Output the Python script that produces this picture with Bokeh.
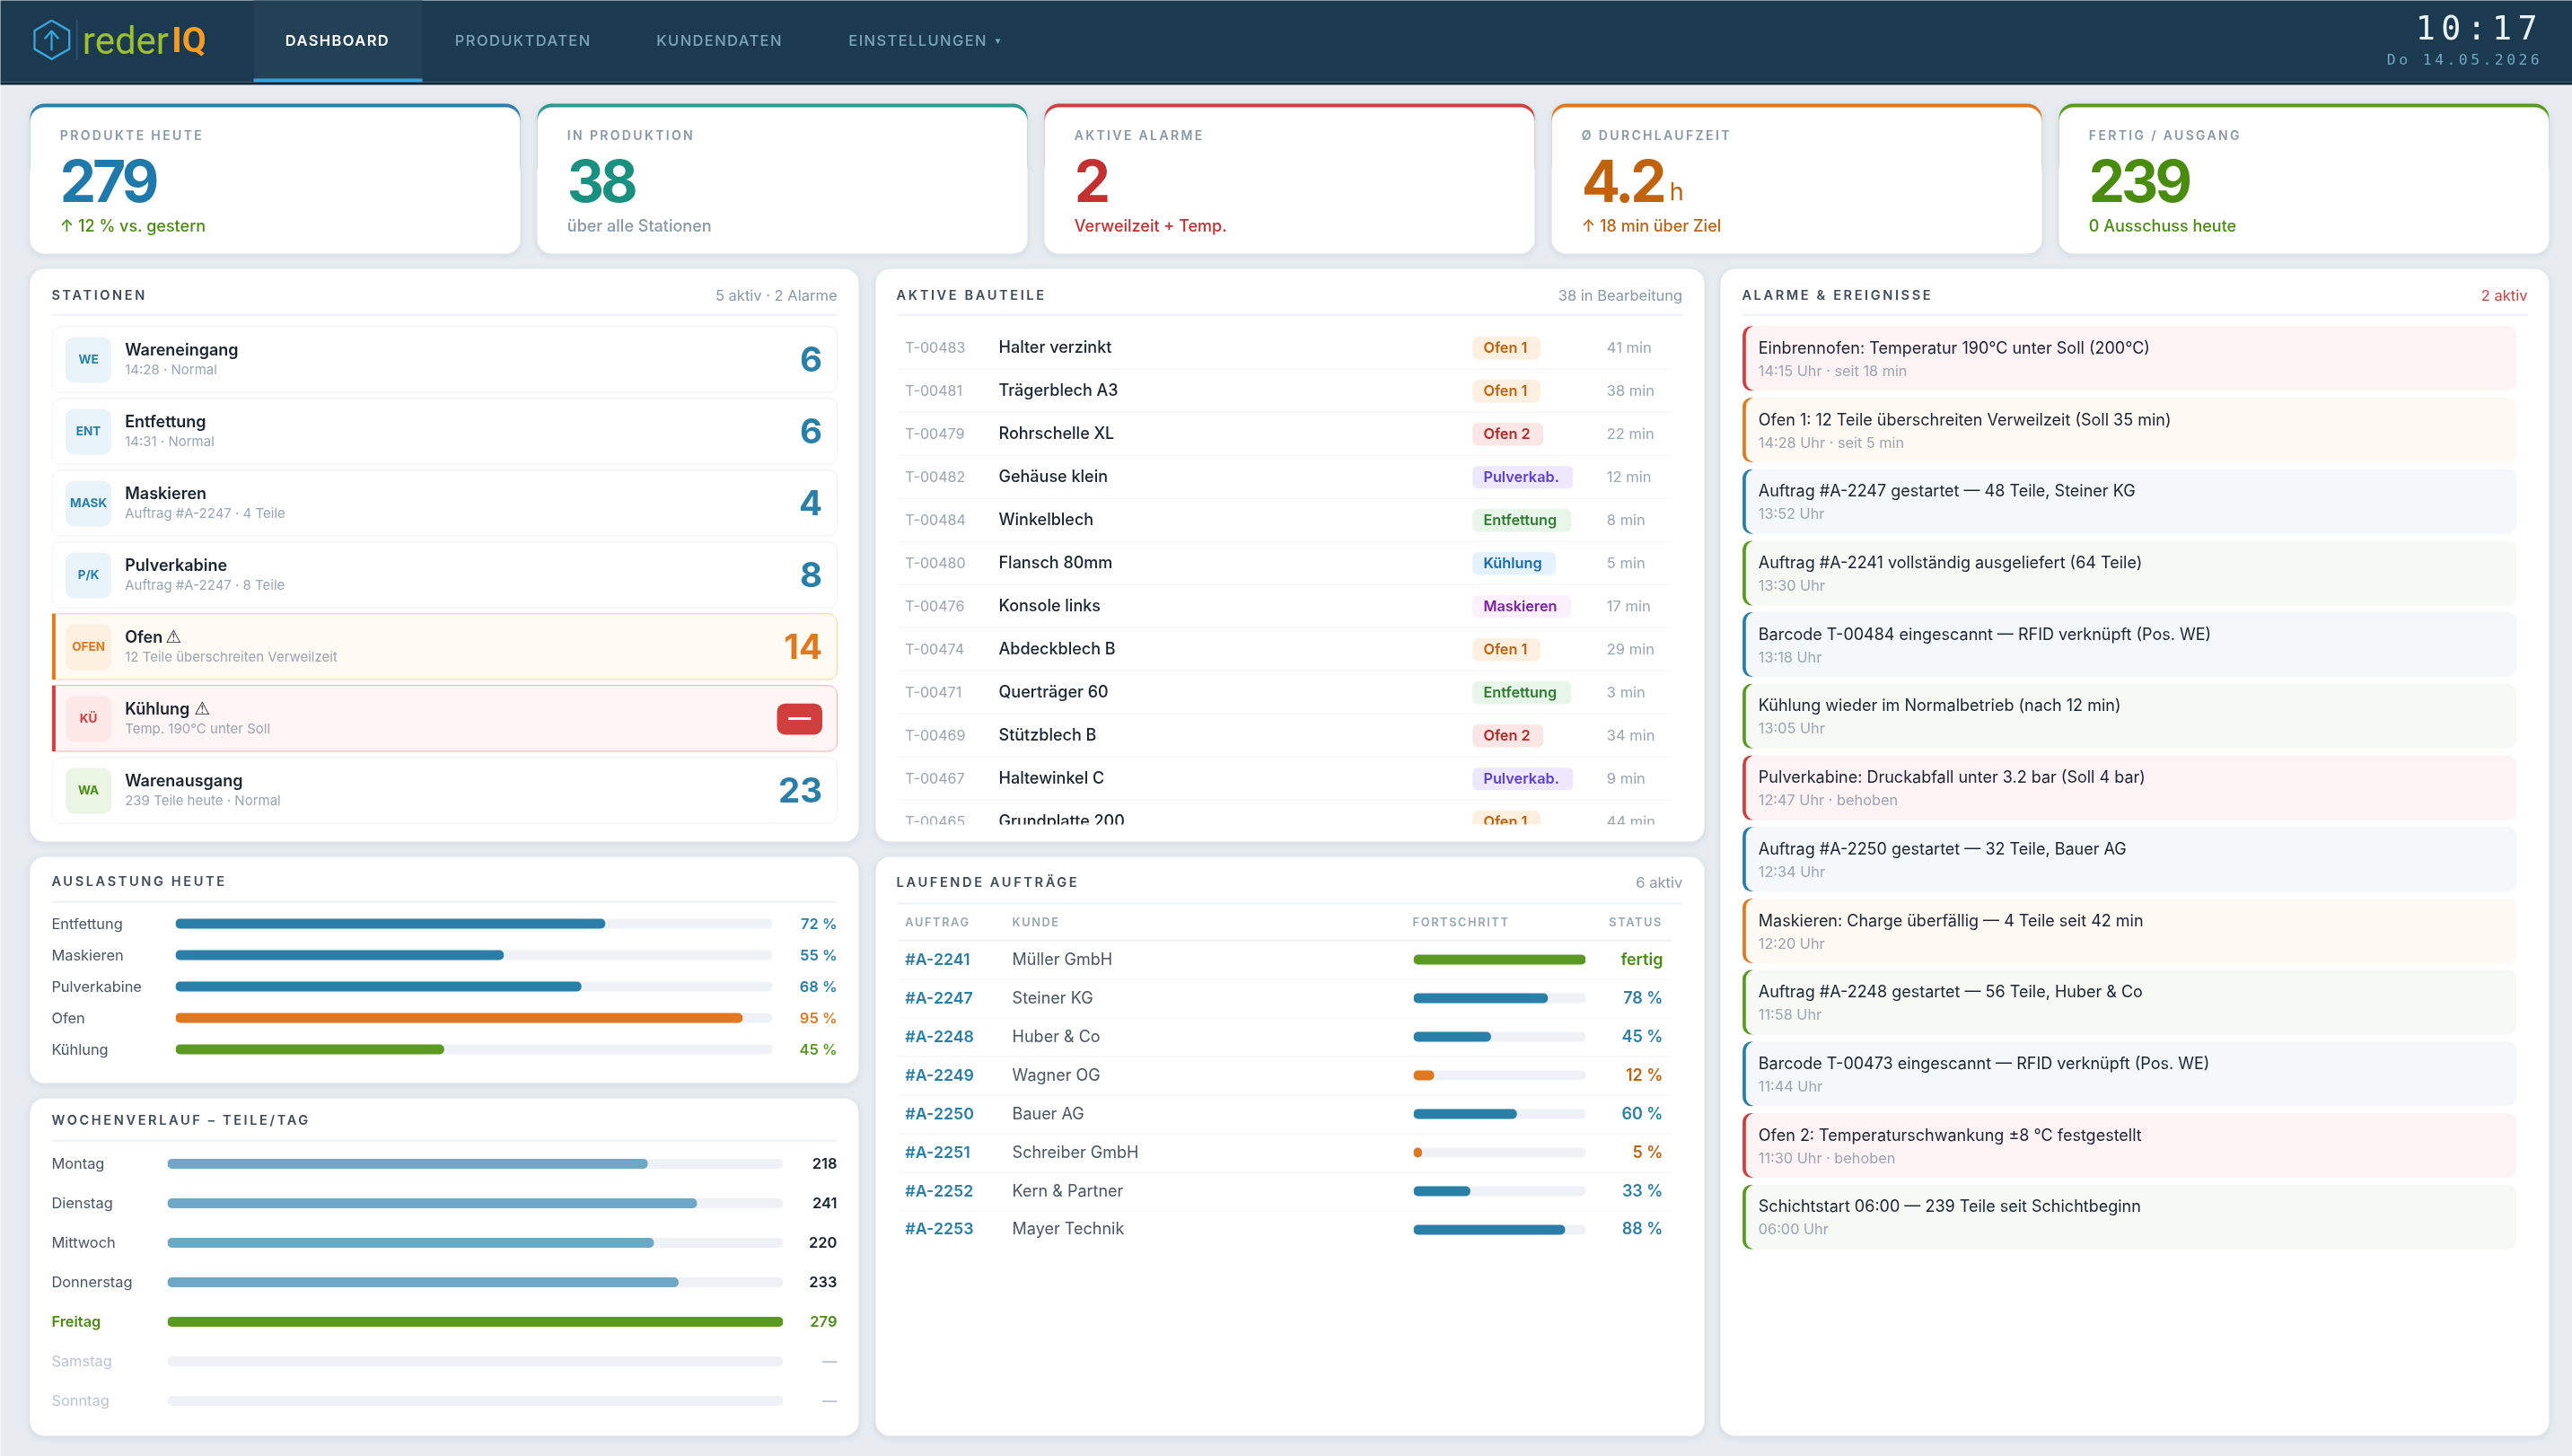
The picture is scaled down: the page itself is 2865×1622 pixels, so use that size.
from collections import OrderedDict
from bokeh.core.properties import value
from bokeh.embed import file_html
from bokeh.resources import INLINE
from bokeh.layouts import column
from bokeh.models import Range1d, FactorRange
from bokeh.plotting import figure

# ---------- data ----------
nav_items = ["DASHBOARD", "PRODUKTDATEN", "KUNDENDATEN", "EINSTELLUNGEN"]
clock_time = "10:17"
clock_date = "Do 14.05.2026"

kpi_labels = ["PRODUKTE HEUTE", "IN PRODUKTION", "AKTIVE ALARME", "Ø DURCHLAUFZEIT", "FERTIG / AUSGANG"]
kpi_values = ["279", "38", "2", "4.2", "239"]
kpi_units = ["", "", "", "h", ""]
kpi_notes = ["↑ 12 % vs. gestern", "über alle Stationen", "Verweilzeit + Temp.", "↑ 18 min über Ziel", "0 Ausschuss heute"]

station_codes = ["WE", "ENT", "MASK", "P/K", "OFEN", "KÜ", "WA"]
station_names = ["Wareneingang", "Entfettung", "Maskieren", "Pulverkabine", "Ofen", "Kühlung", "Warenausgang"]
station_details = ["14:28 · Normal", "14:31 · Normal", "Auftrag #A-2247 · 4 Teile", "Auftrag #A-2247 · 8 Teile",
                   "12 Teile überschreiten Verweilzeit", "Temp. 190°C unter Soll", "239 Teile heute · Normal"]
station_counts = ["6", "6", "4", "8", "14", "—", "23"]
station_state = ["ok", "ok", "ok", "ok", "warn", "alarm", "done"]

part_ids = ["T-00483", "T-00481", "T-00479", "T-00482", "T-00484", "T-00480", "T-00476", "T-00474", "T-00471", "T-00469", "T-00467", "T-00465"]
part_names = ["Halter verzinkt", "Trägerblech A3", "Rohrschelle XL", "Gehäuse klein", "Winkelblech", "Flansch 80mm",
              "Konsole links", "Abdeckblech B", "Querträger 60", "Stützblech B", "Haltewinkel C", "Grundplatte 200"]
part_stations = ["Ofen 1", "Ofen 1", "Ofen 2", "Pulverkab.", "Entfettung", "Kühlung", "Maskieren", "Ofen 1", "Entfettung", "Ofen 2", "Pulverkab.", "Ofen 1"]
part_minutes = ["41 min", "38 min", "22 min", "12 min", "8 min", "5 min", "17 min", "29 min", "3 min", "34 min", "9 min", "44 min"]

event_texts = ["Einbrennofen: Temperatur 190°C unter Soll (200°C)", "Ofen 1: 12 Teile überschreiten Verweilzeit (Soll 35 min)",
               "Auftrag #A-2247 gestartet — 48 Teile, Steiner KG", "Auftrag #A-2241 vollständig ausgeliefert (64 Teile)",
               "Barcode T-00484 eingescannt — RFID verknüpft (Pos. WE)", "Kühlung wieder im Normalbetrieb (nach 12 min)",
               "Pulverkabine: Druckabfall unter 3.2 bar (Soll 4 bar)", "Auftrag #A-2250 gestartet — 32 Teile, Bauer AG",
               "Maskieren: Charge überfällig — 4 Teile seit 42 min", "Auftrag #A-2248 gestartet — 56 Teile, Huber & Co",
               "Barcode T-00473 eingescannt — RFID verknüpft (Pos. WE)", "Ofen 2: Temperaturschwankung ±8 °C festgestellt",
               "Schichtstart 06:00 — 239 Teile seit Schichtbeginn"]
event_times = ["14:15 Uhr · seit 18 min", "14:28 Uhr · seit 5 min", "13:52 Uhr", "13:30 Uhr", "13:18 Uhr", "13:05 Uhr",
               "12:47 Uhr · behoben", "12:34 Uhr", "12:20 Uhr", "11:58 Uhr", "11:44 Uhr", "11:30 Uhr · behoben", "06:00 Uhr"]
event_kinds = ["red", "orange", "blue", "green", "blue", "green", "red", "blue", "orange", "green", "blue", "red", "green"]

util_names = ["Entfettung", "Maskieren", "Pulverkabine", "Ofen", "Kühlung"]
util_values = [72, 55, 68, 95, 45]
util_kinds = ["blue", "blue", "blue", "orange", "green"]

week_days = ["Montag", "Dienstag", "Mittwoch", "Donnerstag", "Freitag", "Samstag", "Sonntag"]
week_bar_pct = [78, 86, 79, 83, 100, 0, 0]
week_labels = ["218", "241", "220", "233", "279", "—", "—"]

order_ids = ["#A-2241", "#A-2247", "#A-2248", "#A-2249", "#A-2250", "#A-2251", "#A-2252", "#A-2253"]
order_customers = ["Müller GmbH", "Steiner KG", "Huber & Co", "Wagner OG", "Bauer AG", "Schreiber GmbH", "Kern & Partner", "Mayer Technik"]
order_progress = [100, 78, 45, 12, 60, 5, 33, 88]
order_status = ["fertig", "78 %", "45 %", "12 %", "60 %", "5 %", "33 %", "88 %"]
order_kinds = ["green", "blue", "blue", "orange", "blue", "orange", "blue", "blue"]
order_headers = ["AUFTRAG", "KUNDE", "FORTSCHRITT", "STATUS"]

# ---------- style ----------
W, H = 2865, 1622
PAGE = "#e8ecf1"; NAVY = "#1c3a4f"; INK = "#1a2330"; MUTED = "#9aa5b1"; TRACK = "#eef1f5"; LINE = "#eef1f5"
FILL = {"blue": "#2a7fa9", "orange": "#e07820", "green": "#5a9a20", "red": "#d03e3e"}
TXT = {"blue": "#2a7fa9", "orange": "#c0620e", "green": "#4a8c10", "red": "#c43030"}
SEMI = "Inter SemiBold"; MED = "Inter Medium"


def sheet(**kw):
    f = figure(output_backend="svg", toolbar_location=None, x_axis_type=None, y_axis_type=None,
               min_border=0, outline_line_color=None, **kw)
    f.grid.visible = False
    return f


p = sheet(width=W, height=H, x_range=Range1d(0, W), y_range=Range1d(H, 0), background_fill_color=PAGE, border_fill_color=PAGE)
p.styles = {"position": "fixed", "left": "0px", "top": "0px"}

layers = OrderedDict()
pending = OrderedDict()


def layer(ls):
    if ls == 0:
        return p
    if ls not in layers:
        f = sheet(width=W, height=H, x_range=Range1d(0, W), y_range=Range1d(H, 0), background_fill_color=None, border_fill_color=None)
        f.styles = {"position": "fixed", "left": "0px", "top": "0px", "letter-spacing": f"{ls}px"}
        layers[ls] = f
    return layers[ls]


def Q(x0, y0, x1, y1, fill, line=None, r=0, alpha=1.0, lw=1.0):
    p.quad(left=[x0], right=[x1], top=[y0], bottom=[y1], fill_color=fill, fill_alpha=alpha,
           line_color=line, line_width=lw, border_radius=r)


def T(x, y, s, size, color, font="Inter", style="normal", align="left", ls=0):
    g = pending.setdefault((ls, font, style, align), dict(x=[], y=[], text=[], size=[], color=[]))
    g["x"].append(x - 0.7 if align == "left" else x); g["y"].append(y - 0.9); g["text"].append(s)
    g["size"].append(f"{size}px"); g["color"].append(color)


def flush():
    for (ls, font, style, align), g in pending.items():
        layer(ls).text(x="x", y="y", text="text", source=g, text_font=value(font), text_font_style=style, text_align=align,
                       text_baseline="middle", text_font_size="size", text_color="color")
    pending.clear()


def card(x0, y0, x1, y1, r=16):
    for d, a in ((7, .010), (4, .014), (2, .020)):
        Q(x0 - d, y0 - d + 2, x1 + d, y1 + d + 2, "#1c3a4f", r=r + d, alpha=a)
    Q(x0, y0, x1, y1, "#ffffff", r=r)


def panel_head(x0, x1, ty, div, title, note=None, note_color="#8a97a6"):
    T(x0, ty, title, 14.6, "#3f4b59", font=SEMI, ls=2.6)
    if note:
        T(x1, ty, note, 16.5, note_color, align="right")
    Q(x0, div - 1, x1, div + 1, LINE)


# ---------- header ----------
Q(-6, -6, W + 6, 91, NAVY)
Q(-6, 91, W + 6, 94, "#0f2536")
Q(282, -6, 470, 91, "#234156")
Q(282, 87, 470, 91, "#35a0d8")
hx = [57, 76.7, 76.7, 57, 38, 38, 57]
hy = [22.3, 33.7, 54, 65.3, 54, 33.7, 22.3]
p.line(hx, hy, line_color="#3aa6dc", line_width=2.3, line_join="miter")
p.line([57, 57], [34, 55.7], line_color="#3aa6dc", line_width=2.2)
p.line([49.3, 57, 64.7], [42.7, 34, 42.7], line_color="#3aa6dc", line_width=2.2)
p.line([85.3, 85.3], [21.7, 66.7], line_color="#2f6a88", line_width=1)
T(92, 45.5, "reder", 42, "#9dc02e", font="Roboto")
T(191.5, 45.5, "IQ", 39, "#f39c27", font="Roboto", style="bold")

nav_x = [318, 507, 731.5, 945.5]
for i, (nx, label) in enumerate(zip(nav_x, nav_items)):
    T(nx, 45, label, 16.5, "#ffffff" if i == 0 else "#7da6bb", font=SEMI if i == 0 else MED, ls=1.4)
T(1109, 45.5, "▾", 11, "#7da6bb", font="DejaVu Sans")
T(2691, 31.5, clock_time, 36.6, "#e8f4fa", font="DejaVu Sans Mono", ls=6.4)
T(2659, 66.5, clock_date, 16.5, "#6fa8c0", font="DejaVu Sans Mono", ls=3.4)

# ---------- KPI cards ----------
kpi_top = ["#2e7fad", "#2a9a8c", "#d04040", "#e07820", "#5a9a20"]
kpi_val = ["#1f7aab", "#1a9080", "#c43030", "#c0620e", "#4a8c10"]
kpi_note = ["#4a8c10", "#8a97a6", "#c43030", "#c0620e", "#4a8c10"]
for i in range(5):
    x0 = 33 + i * 565
    x1 = x0 + 546
    for d, a in ((7, .010), (4, .014), (2, .020)):
        Q(x0 - d, 115 - d + 2, x1 + d, 282 + d + 2, "#1c3a4f", r=16 + d, alpha=a)
    Q(x0, 115, x1, 200, kpi_top[i], r=16)
    Q(x0, 119, x1, 282, "#ffffff", r=16)
    T(x0 + 34, 151, kpi_labels[i], 14, "#8a97a6", font=SEMI, ls=2.35)
    T(x0 + 34, 201.5, kpi_values[i], 64, kpi_val[i], style="bold", ls=-4)
    if kpi_units[i]:
        T(x0 + 132, 213.5, kpi_units[i], 27, kpi_val[i])
    T(x0 + 34, 252, kpi_notes[i], 18, kpi_note[i], font=MED)

# ---------- cards ----------
col1 = (33, 956); col2 = (975, 1898); col3 = (1916, 2839)
card(col1[0], 299, col1[1], 937)
card(col2[0], 299, col2[1], 937)
card(col3[0], 299, col3[1], 1599)
card(col1[0], 954, col1[1], 1206)
card(col1[0], 1223, col1[1], 1599)
card(col2[0], 954, col2[1], 1599)

# Stationen
panel_head(57.6, 932, 329, 350.5, "STATIONEN", "5 aktiv · 2 Alarme")
st_style = {
    "ok": dict(icon="#e8f3fa", fg="#2a7fa9", num="#2a7fa9", bg="#ffffff", br="#eef1f5", bar=None),
    "done": dict(icon="#eaf5e3", fg="#4a8c10", num="#2a7fa9", bg="#ffffff", br="#eef1f5", bar=None),
    "warn": dict(icon="#fdf0e0", fg="#e07820", num="#e07820", bg="#fffaf3", br="#f5d58e", bar="#e07820"),
    "alarm": dict(icon="#fde8e8", fg="#d03e3e", num="#d03e3e", bg="#fff5f5", br="#f3b0b0", bar="#d03e3e"),
}
warn_x = {"warn": 184.5, "alarm": 216.5}
for i, (code, name, det, cnt, state) in enumerate(zip(station_codes, station_names, station_details, station_counts, station_state)):
    s = st_style[state]
    y0 = 363.2 + i * 80
    y1 = y0 + 73.3
    if s["bar"]:
        Q(57.6, y0, 932, y1, s["bg"], line=s["br"], r=(0, 10, 10, 0))
        Q(57.6, y0, 61.4, y1, s["bar"])
    else:
        Q(57.6, y0, 932, y1, s["bg"], line=s["br"], r=10)
    Q(72.7, y0 + 11.8, 123.6, y0 + 62.8, s["icon"], r=9)
    T(98.1, y0 + 37, code, 13.5, s["fg"], style="bold", align="center")
    T(139.4, y0 + 26.5, name, 18, INK, font=SEMI)
    if state in warn_x:
        T(warn_x[state], y0 + 26.5, "⚠", 20, INK, font="DejaVu Sans")
    T(139.4, y0 + 48.5, det, 15, MUTED)
    if state == "alarm":
        Q(865, y0 + 20, 915.5, y0 + 54.8, s["bar"], r=9)
        T(890.2, y0 + 36.5, cnt, 25, "#ffffff", style="bold", align="center")
    else:
        T(915.5, y0 + 37, cnt, 38.5, s["num"], style="bold", align="right")

# Aktive Bauteile
panel_head(998.8, 1873.7, 329, 350.5, "AKTIVE BAUTEILE", "38 in Bearbeitung")
badge = {"Ofen 1": ("#fdf0e0", "#c0620e", 75.7), "Ofen 2": ("#fbe6e6", "#b52a2a", 78.8), "Pulverkab.": ("#ede8fd", "#5b3fd0", 112),
         "Entfettung": ("#e8f5e9", "#2e7d32", 110), "Kühlung": ("#e3f2fd", "#1a6aa8", 92.7), "Maskieren": ("#fcf0fd", "#7b1fa2", 110)}
for i, (pid, name, st, mins) in enumerate(zip(part_ids, part_names, part_stations, part_minutes)):
    yc = 387.2 + i * 48
    if i < 11:
        Q(998.8, yc + 23, 1862, yc + 24.2, "#f3f5f7")
    bg, fg, w = badge[st]
    Q(1639.8, yc - 12.8, 1639.8 + w, yc + 12.8, bg, r=6)
    T(1008.5, yc, pid, 16.1, MUTED)
    T(1112.7, yc, name, 18, INK, font=MED)
    T(1652.6, yc, st, 16.3, fg, font=SEMI)
    T(1790, yc, mins, 16.5, MUTED)
flush()
Q(985, 918, 1888, 936, "#ffffff")

# Alarme & Ereignisse
panel_head(1940.6, 2815, 329, 350.5, "ALARME & EREIGNISSE", "2 aktiv", note_color="#d03e3e")
ev_bg = {"red": "#fdf3f4", "orange": "#fef9f3", "blue": "#f4f8fb", "green": "#f6f9f4"}
for i, (txt, tm, kind) in enumerate(zip(event_texts, event_times, event_kinds)):
    y0 = 362.8 + i * 79.7
    y1 = y0 + 72
    Q(1940.6, y0, 1960, y1, FILL[kind], r=10)
    Q(1944.3, y0, 2802.8, y1, ev_bg[kind], r=10)
    T(1959, y0 + 25, txt, 18, INK)
    T(1959, y0 + 50.5, tm, 16.3, MUTED)

# Auslastung heute
panel_head(57.6, 932, 982.5, 1004.3, "AUSLASTUNG HEUTE")
for i, (name, val, kind) in enumerate(zip(util_names, util_values, util_kinds)):
    yc = 1029.5 + i * 35
    T(57.6, yc, name, 16.4, "#4a5563")
    T(932, yc, f"{val} %", 16.5, FILL[kind], font=SEMI, align="right")

# Wochenverlauf
panel_head(57.6, 932, 1248.5, 1270.3, "WOCHENVERLAUF – TEILE/TAG")
for i, (day, lab) in enumerate(zip(week_days, week_labels)):
    yc = 1296.4 + i * 44.05
    c1 = "#bcc4ce" if i > 4 else ("#4a8c10" if i == 4 else "#4a5563")
    c2 = "#b8c0ca" if i > 4 else ("#4a8c10" if i == 4 else INK)
    T(57.6, yc, day, 16.4, c1, font=SEMI if i == 4 else "Inter")
    T(932, yc, lab, 16.5, c2, font=SEMI, align="right")

# Laufende Auftraege
panel_head(998.8, 1873.7, 983.7, 1006, "LAUFENDE AUFTRÄGE", "6 aktiv")
for lab, x in zip(order_headers[:3], (1008.5, 1127.8, 1573.8)):
    T(x, 1027.4, lab, 12.8, MUTED, font=SEMI, ls=1.6)
T(1792.5, 1027.4, order_headers[3], 12.8, MUTED, font=SEMI, ls=1.6)
Q(998.8, 1046.2, 1862, 1048.2, LINE)
for i, (oid, cust, stat, kind) in enumerate(zip(order_ids, order_customers, order_status, order_kinds)):
    yc = 1068.7 + i * 42.95
    if i < 7:
        Q(998.8, yc + 21.5, 1862, yc + 22.7, "#f3f5f7")
    T(1008.5, yc, oid, 17.8, "#2a7fa9", font=SEMI)
    T(1127.8, yc, cust, 18, "#4a5563")
    T(1851.9, yc, stat, 18, TXT[kind], font=SEMI, align="right")
flush()


# ---------- bar panels: real value scales ----------
def bars(x, y, w, h, names, values, vmax, colors, bar_h):
    f = sheet(width=w, height=h, x_range=Range1d(0, vmax), y_range=FactorRange(factors=list(reversed(names))),
              background_fill_color=None, border_fill_color=None)
    f.styles = {"position": "fixed", "left": f"{x}px", "top": f"{y}px"}
    f.hbar(y=names, left=0, right=vmax, height=bar_h, fill_color=TRACK, line_color=None, border_radius=5)
    src = dict(y=[n for n, v in zip(names, values) if v > 0], right=[v for v in values if v > 0],
               color=[c for c, v in zip(colors, values) if v > 0])
    f.hbar(y="y", left=0, right="right", height=bar_h, fill_color="color", line_color=None, border_radius=5, source=src)
    return f


panels = [
    bars(195, 1011, 665, 175, util_names, util_values, 100, [FILL[k] for k in util_kinds], 11 / 35),
    bars(186, 1274, 686, 308, week_days, week_bar_pct, 100,
         ["#6fa8c6", "#6fa8c6", "#6fa8c6", "#6fa8c6", FILL["green"], TRACK, TRACK], 11 / 44),
    bars(1574, 1047, 192, 344, order_ids, order_progress, 100, [FILL[k] for k in order_kinds], 11 / 43),
]

root = column(p, *panels, *layers.values())
open("out.html", "w").write(file_html(root, INLINE))
